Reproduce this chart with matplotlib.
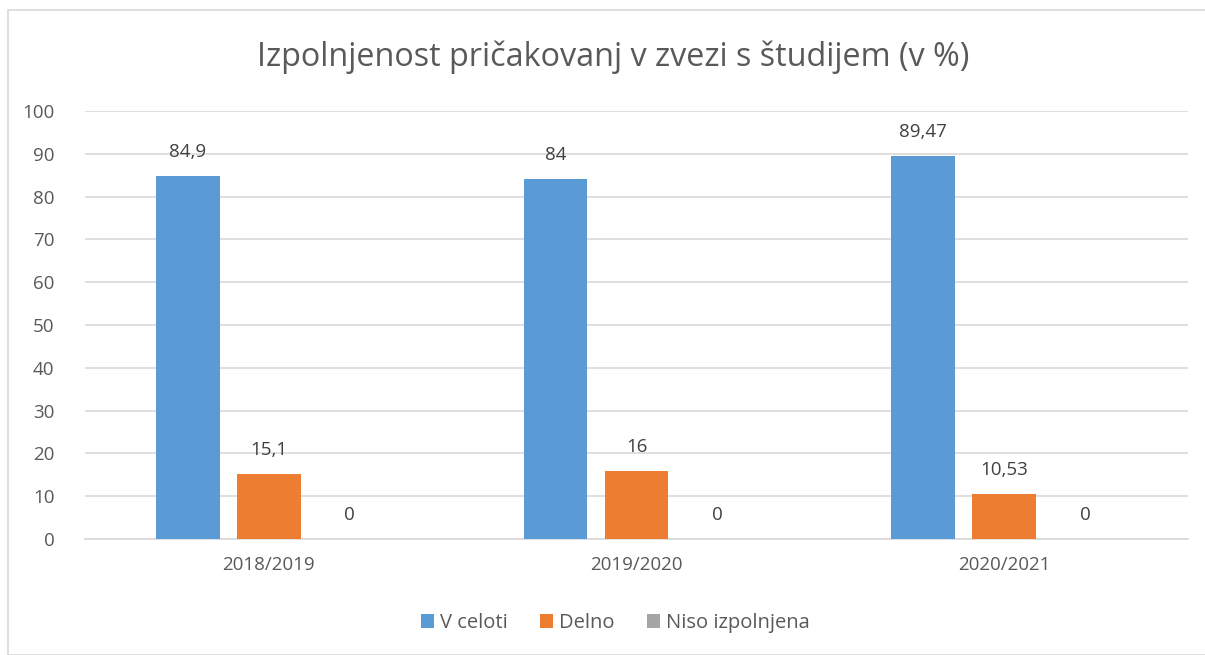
import matplotlib
matplotlib.use("Agg")
import matplotlib.pyplot as plt
from matplotlib.patches import Rectangle
import numpy as np

plt.rcParams['font.family'] = ['Open Sans', 'DejaVu Sans']

categories = ["2018/2019", "2019/2020", "2020/2021"]
series_names = ["V celoti", "Delno", "Niso izpolnjena"]
v_celoti = [84.9, 84, 89.47]
delno = [15.1, 16, 10.53]
niso = [0, 0, 0]
labels_celoti = ["84,9", "84", "89,47"]
labels_delno = ["15,1", "16", "10,53"]
labels_niso = ["0", "0", "0"]
title = "Izpolnjenost pričakovanj v zvezi s študijem (v %)"

colors = ["#5B9BD5", "#ED7D31", "#A5A5A5"]
text_color = "#595959"
label_color = "#404040"

fig = plt.figure(figsize=(12.05, 6.55), dpi=100)
ax = fig.add_axes([85/1205, 1-539/655, (1188-85)/1205, (539-111)/655])

x = np.arange(len(categories))
width = 0.173
offset = 0.22
all_series = [v_celoti, delno, niso]
all_labels = [labels_celoti, labels_delno, labels_niso]
for i, (vals, labs) in enumerate(zip(all_series, all_labels)):
    pos = x + (i - 1) * offset
    ax.bar(pos, vals, width, color=colors[i], label=series_names[i], zorder=3)
    for p, v, lab in zip(pos, vals, labs):
        ax.text(p, v + 3.5, lab, ha='center', va='bottom', fontsize=13.5, color=label_color)

ax.set_xlim(-0.5, 2.5)
ax.set_ylim(0, 100)
ax.set_yticks(range(0, 101, 10))
ax.yaxis.grid(True, color="#D9D9D9", linewidth=1.2, zorder=0)
ax.set_xticks(x)
ax.set_xticklabels(categories)
ax.tick_params(axis='both', length=0, labelsize=13.5, colors=text_color)
ax.tick_params(axis='x', pad=12)
ax.tick_params(axis='y', pad=22)
for s in ['top', 'right', 'left']:
    ax.spines[s].set_visible(False)
ax.spines['bottom'].set_color("#D9D9D9")
ax.spines['bottom'].set_linewidth(1.2)

fig.text(613/1205, 1-57/655, title, ha='center', va='center', fontsize=23.3, color=text_color)

leg = fig.legend(loc='center', bbox_to_anchor=(615/1205, 1-623/655), ncol=3, frameon=False,
                 fontsize=14.5, handlelength=0.65, handleheight=0.65, handletextpad=0.3, columnspacing=1.6)
for t in leg.get_texts():
    t.set_color(text_color)

fig.patches.append(Rectangle((8/1205, 0), 1.2, 1-10/655, transform=fig.transFigure,
                             fill=False, edgecolor="#D9D9D9", linewidth=1.2))

fig.savefig("out.png", dpi=100)
